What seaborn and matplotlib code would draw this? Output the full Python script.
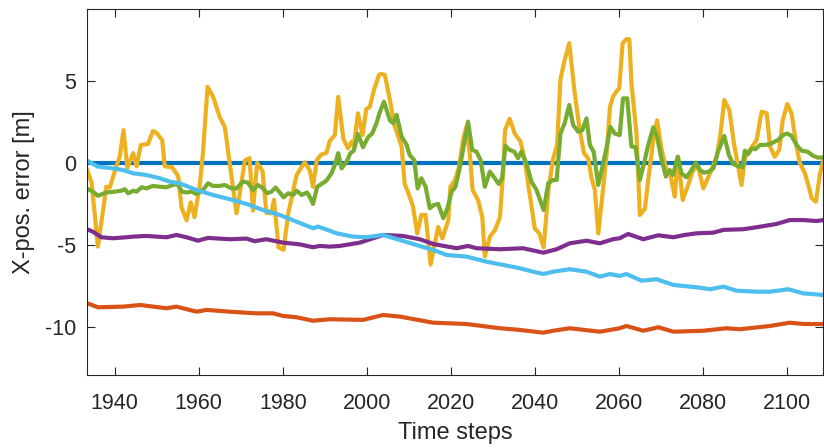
import numpy as np
import pandas as pd
import matplotlib
matplotlib.use("Agg")
import matplotlib.pyplot as plt
import seaborn as sns

# ---------------- data ----------------
x_ticks = [1940, 1960, 1980, 2000, 2020, 2040, 2060, 2080, 2100]
y_ticks = [-10, -5, 0, 5]

blue_t = [1933.4, 2108.8]
blue_y = [0.0, 0.0]

red_t = [1933.4, 1936.0, 1942.0, 1946.0, 1952.3, 1954.7, 1959.5, 1961.8, 1967.4,
         1973.7, 1977.7, 1980.1, 1983.3, 1987.2, 1991.2, 1999.1, 2003.9, 2007.9,
         2015.8, 2023.7, 2031.7, 2036.4, 2042.0, 2044.4, 2048.3, 2055.5, 2060.2,
         2061.8, 2065.8, 2069.4, 2073.0, 2080.1, 2085.6, 2088.8, 2096.0, 2100.7,
         2103.9, 2108.7]
red_y = [-8.55, -8.8, -8.76, -8.66, -8.86, -8.76, -9.07, -8.96, -9.07,
         -9.17, -9.17, -9.33, -9.41, -9.62, -9.53, -9.57, -9.27, -9.37,
         -9.74, -9.82, -10.08, -10.18, -10.35, -10.23, -10.08, -10.29, -10.08,
         -9.94, -10.23, -10.02, -10.29, -10.23, -10.08, -10.14, -9.94, -9.74,
         -9.82, -9.82]

yellow_t = [1933.3, 1934.5, 1936.0, 1938.0, 1938.8, 1940.4, 1941.2, 1942.1, 1943.0,
            1944.4, 1945.2, 1946.2, 1947.9, 1949.1, 1949.9, 1951.3, 1951.9, 1953.7,
            1955.1, 1955.9, 1957.1, 1958.1, 1959.0, 1960.2, 1961.0, 1962.1, 1963.4,
            1965.0, 1966.2, 1967.8, 1969.0, 1971.0, 1972.1, 1972.9, 1973.9, 1975.2,
            1976.1, 1977.3, 1977.9, 1979.0, 1980.2, 1981.3, 1983.3, 1985.2, 1986.4,
            1987.2, 1988.1, 1989.2, 1990.4, 1991.2, 1992.4, 1993.2, 1994.4, 1995.5,
            1996.4, 1996.9, 1997.9, 1999.0, 1999.9, 2000.7, 2001.7, 2002.9, 2003.5,
            2004.3, 2005.5, 2006.7, 2008.3, 2009.0, 2010.2, 2011.0, 2012.0, 2013.0,
            2014.0, 2015.2, 2016.2, 2017.0, 2018.0, 2019.4, 2019.9, 2021.0, 2022.0,
            2022.9, 2023.7, 2024.5, 2025.2, 2026.5, 2027.5, 2028.1, 2029.3, 2030.5,
            2031.7, 2032.5, 2032.9, 2034.0, 2035.2, 2036.6, 2037.6, 2038.6, 2040.0,
            2041.1, 2042.1, 2043.3, 2044.4, 2045.3, 2046.1, 2047.1, 2048.2, 2049.5,
            2050.7, 2051.7, 2052.7, 2053.5, 2054.3, 2055.1, 2056.3, 2057.1, 2057.9,
            2058.6, 2059.4, 2060.1, 2060.9, 2061.8, 2062.5, 2063.0, 2064.2, 2065.0,
            2066.2, 2067.0, 2068.2, 2069.1, 2070.2, 2071.4, 2072.1, 2073.3, 2074.1,
            2075.2, 2076.5, 2077.7, 2078.9, 2080.1, 2081.7, 2083.3, 2084.2, 2085.1,
            2086.3, 2087.4, 2088.4, 2089.2, 2090.0, 2091.2, 2092.8, 2094.0, 2095.2,
            2096.0, 2097.1, 2098.2, 2099.0, 2100.1, 2101.1, 2102.3, 2103.1, 2104.3,
            2105.3, 2105.9, 2106.9, 2107.9, 2108.7]
yellow_y = [-0.33, -1.2, -5.1, -1.45, -1.5, -0.2, 0.4, 2.0, -0.3,
            0.6, -0.2, 1.1, 1.15, 1.95, 1.85, 1.4, -0.2, -0.27,
            -0.8, -2.7, -3.5, -2.4, -3.3, -1.45, 0.6, 4.65, 4.05,
            2.8, 2.2, -0.8, -3.07, 0.15, 0.3, -2.9, 0.0, -0.5,
            -3.05, -3.07, -2.25, -5.15, -5.3, -3.07, -0.73, 0.04, -0.43,
            -1.45, 0.18, 0.52, 0.62, 1.35, 1.7, 4.04, 1.5, 0.9,
            1.3, 1.0, 3.03, 1.7, 3.3, 3.4, 4.45, 5.37, 5.43,
            5.37, 3.84, 2.2, 1.0, -1.24, -2.05, -2.66, -4.3, -3.17,
            -3.17, -6.2, -4.9, -3.9, -4.6, -3.5, -1.45, -1.04, -0.22,
            1.4, 2.2, 0.6, -1.65, -2.26, -3.3, -5.7, -4.5, -4.1,
            -3.3, -0.43, 2.0, 2.7, 1.8, 1.3, 0.18, -1.6, -4.0,
            -4.3, -5.15, -1.5, 0.3, 1.1, 5.1, 6.28, 7.3, 4.25,
            2.0, 0.6, 0.29, -0.93, -1.65, -4.3, -1.45, 0.6, 3.43,
            4.04, 4.35, 4.55, 7.3, 7.55, 7.54, 4.86, 1.8, -3.17,
            -2.8, -1.0, 1.4, 2.6, 0.8, -0.5, -0.5, -2.05, 0.38,
            -2.26, -1.34, -0.43, -0.22, -1.55, -0.63, 0.38, 1.8, 3.84,
            3.23, 1.2, -0.22, -1.34, 0.29, 0.8, 1.4, 3.13, 3.03,
            1.0, 0.38, 0.8, 2.6, 3.6, 3.03, 1.0, 0.0, -0.63,
            -1.55, -2.15, -2.36, -0.63, 0.18]

purple_t = [1933.4, 1934.8, 1936.8, 1939.6, 1942.8, 1944.4, 1947.5, 1952.3, 1954.7,
            1957.1, 1959.8, 1962.2, 1967.4, 1971.4, 1973.3, 1976.1, 1980.1, 1984.0,
            1987.2, 1988.8, 1991.2, 1993.6, 1998.3, 2003.9, 2008.6, 2012.6, 2015.8,
            2021.4, 2024.1, 2026.1, 2031.7, 2037.2, 2042.0, 2045.2, 2048.3, 2052.3,
            2055.5, 2058.6, 2060.2, 2062.2, 2065.8, 2069.4, 2073.0, 2075.7, 2078.5,
            2082.5, 2084.9, 2089.6, 2092.8, 2097.5, 2100.7, 2103.9, 2107.1, 2108.7]
purple_y = [-4.04, -4.19, -4.53, -4.59, -4.53, -4.49, -4.45, -4.53, -4.39,
            -4.53, -4.74, -4.57, -4.65, -4.61, -4.77, -4.65, -4.86, -4.96,
            -5.14, -5.06, -5.1, -5.06, -4.86, -4.39, -4.45, -4.65, -4.94,
            -5.2, -5.06, -5.2, -5.26, -5.2, -5.47, -5.26, -4.9, -4.74,
            -4.9, -4.65, -4.59, -4.33, -4.65, -4.41, -4.53, -4.39, -4.29,
            -4.25, -4.08, -4.04, -3.92, -3.72, -3.48, -3.48, -3.54, -3.48]

green_t = [1933.3, 1934.8, 1936.0, 1938.0, 1940.0, 1941.6, 1942.4, 1943.2, 1944.4,
           1945.2, 1946.4, 1947.5, 1949.1, 1950.7, 1952.3, 1954.3, 1955.1, 1956.0,
           1957.1, 1958.3, 1959.5, 1961.0, 1962.2, 1963.4, 1965.0, 1966.2, 1967.8,
           1969.0, 1970.5, 1971.7, 1972.9, 1974.1, 1975.3, 1976.3, 1977.3, 1978.3,
           1979.3, 1980.2, 1981.3, 1982.5, 1983.3, 1984.5, 1985.8, 1986.4, 1987.2,
           1988.2, 1989.2, 1990.4, 1991.6, 1992.4, 1993.2, 1994.0, 1995.2, 1996.1,
           1996.9, 1997.9, 1999.1, 2000.3, 2001.3, 2002.3, 2003.1, 2004.1, 2005.5,
           2006.3, 2007.1, 2008.3, 2009.5, 2010.2, 2011.3, 2012.1, 2013.0, 2014.0,
           2015.0, 2016.0, 2017.0, 2018.2, 2019.2, 2020.2, 2021.1, 2022.1, 2023.2,
           2024.1, 2025.1, 2026.1, 2027.1, 2028.1, 2029.3, 2030.3, 2031.4, 2032.2,
           2033.0, 2034.0, 2035.1, 2036.0, 2036.8, 2038.0, 2039.2, 2040.4, 2042.1,
           2043.2, 2044.2, 2045.2, 2046.1, 2047.1, 2048.2, 2049.1, 2050.3, 2051.3,
           2052.3, 2053.1, 2054.0, 2055.1, 2056.1, 2057.2, 2058.0, 2059.0, 2060.2,
           2061.0, 2062.0, 2063.0, 2064.0, 2065.0, 2066.0, 2067.0, 2068.2, 2069.1,
           2070.2, 2071.2, 2072.1, 2072.9, 2074.0, 2074.9, 2076.1, 2077.3, 2078.3,
           2079.3, 2080.3, 2081.4, 2082.5, 2083.6, 2085.1, 2086.2, 2087.2, 2088.3,
           2089.4, 2090.0, 2090.8, 2091.7, 2092.5, 2093.6, 2094.8, 2096.0, 2097.9,
           2099.1, 2100.1, 2101.1, 2102.3, 2103.5, 2104.9, 2106.3, 2107.5, 2108.8]
green_y = [-1.55, -1.75, -2.0, -1.8, -1.75, -1.69, -1.6, -1.85, -1.69,
           -1.75, -1.48, -1.55, -1.4, -1.45, -1.48, -1.3, -1.34, -1.75,
           -1.8, -1.75, -1.9, -1.65, -1.24, -1.4, -1.4, -1.34, -1.55,
           -1.55, -1.14, -1.2, -1.65, -1.34, -1.55, -1.85, -1.75, -1.5,
           -1.8, -2.1, -1.85, -1.95, -1.69, -1.95, -1.8, -2.05, -2.5,
           -1.45, -1.28, -1.08, -0.63, -0.12, 0.6, -0.33, 0.08, 0.6,
           0.75, 1.77, 0.96, 1.57, 1.8, 2.42, 3.1, 3.74, 2.6,
           2.42, 2.93, 1.6, 1.1, 0.49, 0.18, -1.55, -0.93, -1.45,
           -2.76, -2.56, -2.5, -3.37, -2.76, -1.75, -1.45, -0.33, 1.2,
           2.52, 0.8, 0.69, 0.18, -1.45, -0.53, -0.87, -1.28, -0.93,
           1.04, 0.8, 0.69, 0.29, 0.69, -0.02, -1.14, -1.65, -2.87,
           -1.24, -1.04, -1.04, 1.8, 2.42, 3.54, 2.32, 1.91, 2.0,
           2.72, 1.1, 0.69, -1.34, -0.22, 1.1, 2.2, 1.8, 1.7,
           3.94, 3.94, 1.0, 0.96, -1.04, -0.02, 1.1, 2.18, 1.6,
           0.18, -0.83, -0.43, -0.73, 0.38, -0.63, -0.87, -0.43, 0.02,
           -0.43, -0.59, -0.53, -0.33, 0.69, 1.65, 0.49, -0.06, -0.18,
           -0.27, 0.75, 0.55, 0.9, 0.84, 1.1, 1.1, 1.16, 1.4,
           1.7, 1.8, 1.65, 1.1, 0.75, 0.69, 0.43, 0.32, 0.35]

cyan_t = [1933.4, 1936.0, 1939.6, 1942.0, 1944.4, 1947.5, 1950.7, 1953.1, 1955.5,
          1959.5, 1963.4, 1967.4, 1971.4, 1975.3, 1979.3, 1983.3, 1987.2, 1988.4,
          1991.2, 1992.8, 1996.7, 1999.9, 2003.9, 2007.9, 2011.8, 2015.8, 2019.0,
          2023.7, 2028.5, 2032.5, 2036.4, 2039.6, 2042.0, 2044.4, 2048.3, 2052.3,
          2055.5, 2057.9, 2060.2, 2061.8, 2065.4, 2069.0, 2073.0, 2078.5, 2081.7,
          2084.9, 2088.0, 2092.8, 2096.0, 2100.3, 2103.9, 2108.7]
cyan_y = [0.14, -0.22, -0.33, -0.43, -0.63, -0.73, -0.93, -1.14, -1.24,
          -1.65, -1.95, -2.21, -2.5, -2.87, -3.17, -3.58, -3.98, -3.88,
          -4.13, -4.29, -4.49, -4.53, -4.39, -4.7, -5.0, -5.3, -5.61,
          -5.71, -6.02, -6.22, -6.42, -6.63, -6.77, -6.63, -6.48, -6.63,
          -6.93, -6.77, -6.89, -6.77, -7.18, -7.09, -7.44, -7.58, -7.7,
          -7.54, -7.79, -7.85, -7.85, -7.7, -7.95, -8.05]

series = [
    (blue_t, blue_y, "#0072BD"),
    (red_t, red_y, "#D95319"),
    (yellow_t, yellow_y, "#EDB120"),
    (purple_t, purple_y, "#7E2F8E"),
    (green_t, green_y, "#77AC30"),
    (cyan_t, cyan_y, "#4DBEEE"),
]

# ---------------- plot ----------------
sns.set_theme(style="ticks")
plt.rcParams["font.family"] = ["Liberation Sans", "DejaVu Sans"]

fig = plt.figure(figsize=(8.24, 4.48), dpi=100)
ax = fig.add_axes([87 / 824, 1 - 375 / 448, 736 / 824, 366 / 448])

for t, y, c in series:
    sns.lineplot(x=t, y=y, color=c, linewidth=3.0, ax=ax, sort=False,
                 estimator=None, legend=False)

ax.set_xlim(1933.4, 2108.6)
ax.set_ylim(-12.93, 9.39)
ax.set_xticks(x_ticks)
ax.set_yticks(y_ticks)
ax.set_yticklabels([str(v) for v in y_ticks])

axis_col = "#262626"
for s in ax.spines.values():
    s.set_visible(True)
    s.set_color(axis_col)
    s.set_linewidth(0.8)
ax.tick_params(direction="in", length=5.5, width=0.8, color=axis_col,
               labelcolor=axis_col, labelsize=15.5, top=True, right=True)
ax.tick_params(axis="x", pad=13)
ax.tick_params(axis="y", pad=8)
ax.set_xlabel("Time steps", fontsize=17, color=axis_col, labelpad=6)
ax.set_ylabel("X-pos. error [m]", fontsize=17, color=axis_col, labelpad=7)
ax.grid(False)

fig.savefig("out.png", dpi=100)
